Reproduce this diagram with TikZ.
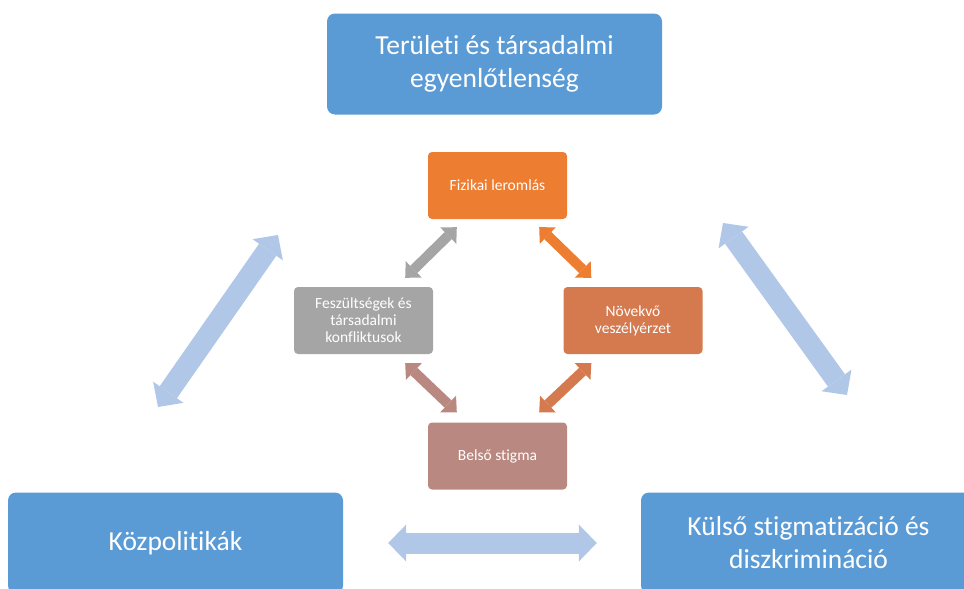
\documentclass[tikz,border=0pt]{standalone}
\usepackage{fontspec}
\setmainfont{Carlito}[Ligatures=NoCommon]
\usetikzlibrary{arrows.meta}

\definecolor{boxblue}{HTML}{5B9BD5}
\definecolor{paleblue}{HTML}{B0C7E7}
\definecolor{corange}{HTML}{ED7D31}
\definecolor{cgray}{HTML}{A5A5A5}
\definecolor{crust}{HTML}{D5794F}
\definecolor{crose}{HTML}{B98880}

\begin{document}
\begin{tikzpicture}[x=1pt, y=-1pt, node distance=135pt,
	big/.style={rectangle, rounded corners=8pt, fill=boxblue, text=white, align=center, minimum width=335pt, minimum height=101pt, font=\fontsize{27.5}{33}\selectfont},
	small/.style={rectangle, rounded corners=4pt, text=white, align=center, minimum width=139pt, minimum height=67pt, font=\fontsize{15.5}{17}\selectfont},
	wide/.style={line width=21pt, draw=paleblue, {Triangle[width=37pt,length=18pt,line width=0pt]}-{Triangle[width=37pt,length=18pt,line width=0pt]}},
	link/.style={line width=10pt, {Triangle[width=23pt,length=12pt,line width=0pt]}-{Triangle[width=23pt,length=12pt,line width=0pt]}}]
	\useasboundingbox (0,0) rectangle (964,589);

	% outer boxes
	\node[big] (terulet) at (494.5,64) {Területi és társadalmi\\egyenlőtlenség}; %
	\node[big] (kozpol) at (175.5,543) {Közpolitikák}; %
	\node[big] (kulso) at (808.5,543) {Külső stigmatizáció és\\diszkrimináció}; %

	% cycle
	\node[small, fill=corange] (fizikai) at (497.5,185.5) {Fizikai leromlás}; %
	\node[small, fill=cgray, below of=fizikai, xshift=-134pt] (feszult) {Feszültségek és\\társadalmi\\konfliktusok}; %
	\node[small, fill=crust, below of=fizikai, xshift=135.5pt] (veszely) {Növekvő\\veszélyérzet}; %
	\node[small, fill=crose, below of=fizikai, yshift=-135.5pt] (stigma) {Belső stigma}; %

	% free ends of the big arrows
	\coordinate (bal1) at (158,407);
	\coordinate (bal2) at (278,235);
	\coordinate (jobb1) at (723,223);
	\coordinate (jobb2) at (847,395);

	% edges
	\draw[wide] (bal1) -- (bal2);
	\draw[wide] (jobb1) -- (jobb2);
	\draw[wide, shorten <=45pt, shorten >=44pt] (kozpol.east) -- (kulso.west);
	\draw[link, draw=cgray] ([xshift=-28pt,yshift=9pt]feszult.north east) -- ([xshift=29pt,yshift=-8pt]fizikai.south west);
	\draw[link, draw=corange] ([xshift=-28pt,yshift=-8pt]fizikai.south east) -- ([xshift=28pt,yshift=9pt]veszely.north west);
	\draw[link, draw=crose] ([xshift=-28pt,yshift=-9pt]feszult.south east) -- ([xshift=29pt,yshift=10pt]stigma.north west);
	\draw[link, draw=crust] ([xshift=28pt,yshift=-9pt]veszely.south west) -- ([xshift=-28pt,yshift=10pt]stigma.north east);
\end{tikzpicture}
\end{document}
